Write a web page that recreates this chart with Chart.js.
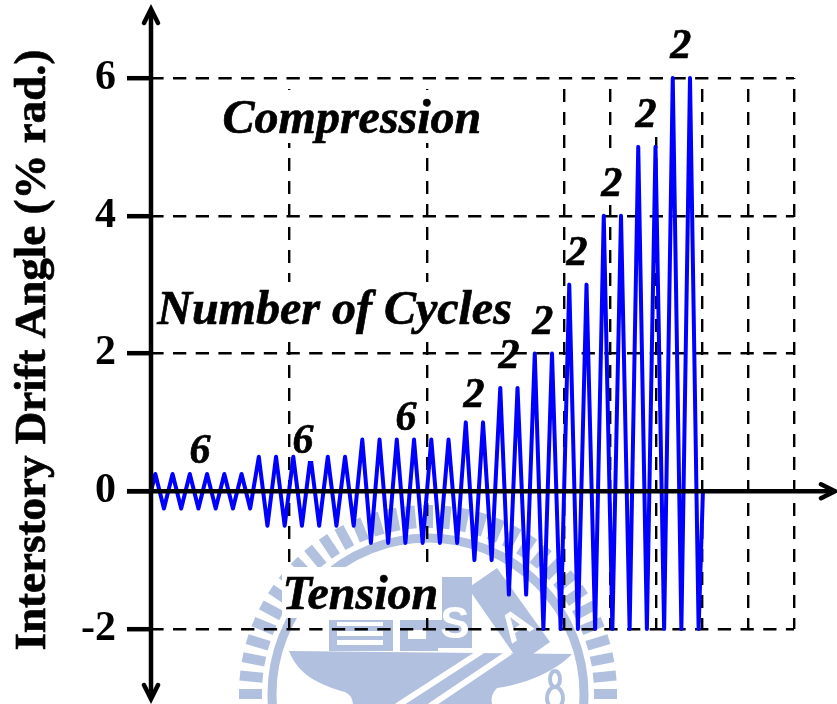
<!DOCTYPE html>
<html>
<head>
<meta charset="utf-8">
<style>
  html, body { margin: 0; padding: 0; background: #fff; overflow: hidden; }
  canvas { display: block; }
</style>
<script src="https://cdn.jsdelivr.net/npm/chart.js@4/dist/chart.umd.min.js"></script>
</head>
<body>
<canvas id="drift-chart" width="837" height="704"></canvas>
<script>
// peak and trough of every loading cycle, in % rad.
const cyclePeaks = [
  0.25, 0.25, 0.25, 0.25, 0.25, 0.25,
  0.5, 0.5, 0.5, 0.5, 0.5, 0.5,
  0.75, 0.75, 0.75, 0.75, 0.75, 0.75,
  1, 1, 1.5, 1.5, 2, 2, 3, 3, 4, 4, 5, 5, 6, 6
];
const cycleTroughs = [
  -0.25, -0.25, -0.25, -0.25, -0.25, -0.25,
  -0.5, -0.5, -0.5, -0.5, -0.5, -0.5,
  -0.75, -0.75, -0.75, -0.75, -0.75, -0.75,
  -1, -1, -1.5, -1.5, -2, -2, -2, -2, -2, -2, -2, -2, -2, -2
];
const yTicks = [-2, 0, 2, 4, 6];
const xGridLines = [0, 8, 16, 23.95, 26.62, 29.28, 31.94, 34.61, 37.28];
const yTitle = 'Interstory Drift Angle (% rad.)';

// repeat counts written over the steps: text, cycle, drift
const cycleCountText = ['6', '6', '6', '2', '2', '2', '2', '2', '2', '2'];
const cycleCountX = [2.84, 8.81, 14.78, 18.72, 20.75, 22.72, 24.7, 26.72, 28.7, 30.72];
const cycleCountY = [0.414, 0.559, 0.893, 1.227, 1.793, 2.287, 3.288, 4.29, 5.292, 6.294];

const zoneText = ['Compression', 'Number of Cycles', 'Tension'];
const zoneX = [11.65, 10.64, 12.14];
const zoneY = [5.205, 2.43, -1.706];

const WATERMARK = '#b0c0de';

const points = [{ x: 0, y: 0 }];
cyclePeaks.forEach((peak, i) => {
  points.push({ x: i + 0.25, y: peak });
  points.push({ x: i + 0.75, y: cycleTroughs[i] });
});
points.push({ x: cyclePeaks.length, y: 0 });

function drawWatermark(ctx) {
  const cx = 428, cy = 694;
  ctx.save();
  ctx.fillStyle = '#fff';
  ctx.fillRect(0, 0, 837, 704);
  ctx.strokeStyle = WATERMARK;
  ctx.fillStyle = WATERMARK;

  // outer teeth
  ctx.lineWidth = 10;
  for (let i = 0; i < 64; i++) {
    const a = i * Math.PI * 2 / 64;
    ctx.beginPath();
    ctx.moveTo(cx + 166 * Math.cos(a), cy + 166 * Math.sin(a));
    ctx.lineTo(cx + 189 * Math.cos(a), cy + 189 * Math.sin(a));
    ctx.stroke();
  }
  ctx.lineWidth = 9;
  ctx.beginPath();
  ctx.arc(cx, cy, 156, 0, Math.PI * 2);
  ctx.stroke();

  // anvil
  ctx.beginPath();
  ctx.moveTo(289, 651);
  ctx.lineTo(572, 654);
  ctx.bezierCurveTo(555, 672, 525, 684, 497, 688);
  ctx.quadraticCurveTo(490, 695, 492, 704);
  ctx.lineTo(353, 704);
  ctx.quadraticCurveTo(352, 695, 345, 692);
  ctx.bezierCurveTo(320, 685, 298, 675, 289, 651);
  ctx.fill();

  // books on the anvil
  ctx.fillRect(329, 620, 64, 31);
  ctx.fillRect(400, 620, 38, 31);
  ctx.fillRect(438, 577, 34, 71);
  ctx.fillStyle = '#fff';
  ctx.fillRect(337, 622, 46, 4);
  ctx.fillRect(337, 631, 46, 5);
  ctx.fillRect(337, 640, 46, 5);
  ctx.fillRect(393, 620, 7, 32);
  ctx.fillRect(408, 630, 18, 9);
  ctx.fillRect(438, 577, 4, 43);

  // tilted block with the shaft
  ctx.fillStyle = WATERMARK;
  ctx.beginPath();
  ctx.moveTo(468, 588);
  ctx.lineTo(497, 568);
  ctx.lineTo(550, 642);
  ctx.lineTo(520, 663);
  ctx.fill();
  ctx.strokeStyle = '#fff';
  ctx.lineWidth = 6;
  ctx.beginPath();
  ctx.moveTo(397, 706);
  ctx.lineTo(502, 638);
  ctx.moveTo(430, 706);
  ctx.lineTo(510, 652);
  ctx.stroke();

  // the 8 under the anvil's right horn
  ctx.strokeStyle = WATERMARK;
  ctx.lineWidth = 4;
  ctx.beginPath();
  ctx.ellipse(555, 679, 5, 8, 0, 0, Math.PI * 2);
  ctx.moveTo(563, 698);
  ctx.ellipse(555, 698, 8, 11, 0, 0, Math.PI * 2);
  ctx.stroke();

  ctx.fillStyle = '#fff';
  ctx.textAlign = 'center';
  ctx.textBaseline = 'middle';
  ctx.font = 'bold 44px "Liberation Sans"';
  ctx.fillText('S', 455, 626);
  ctx.save();
  ctx.translate(517, 627);
  ctx.rotate(-0.6);
  ctx.font = 'bold 40px "Liberation Sans"';
  ctx.fillText('A', 0, 0);
  ctx.restore();
  ctx.restore();
}

function arrowHead(ctx, x, y, dx, dy) {
  ctx.beginPath();
  ctx.moveTo(x - dx * 14 - dy * 7, y - dy * 14 - dx * 7);
  ctx.lineTo(x, y);
  ctx.lineTo(x - dx * 14 + dy * 7, y - dy * 14 + dx * 7);
  ctx.stroke();
}

// the reference type is a touch heavier than plain bold
function heavyText(ctx, text, x, y) {
  ctx.fillText(text, x, y);
  ctx.strokeText(text, x, y);
}

const background = {
  id: 'background',
  beforeDraw(chart) {
    drawWatermark(chart.ctx);
  }
};

const overlay = {
  id: 'overlay',
  afterDatasetsDraw(chart) {
    const { ctx, scales: { x, y } } = chart;
    const originX = x.getPixelForValue(0);
    const originY = y.getPixelForValue(0);

    ctx.save();
    ctx.fillStyle = '#fff';
    // white boxes behind the words, they hide the grid and the seal
    ctx.fillRect(222, 90, 260, 53);
    ctx.fillRect(155, 282, 358, 58);
    ctx.fillRect(282, 567, 158, 51);
    ctx.fillRect(297, 422, 21, 39);
    ctx.fillRect(600, 157, 28, 48);
    ctx.fillRect(634, 89, 28, 48);

    ctx.fillStyle = '#000';
    ctx.strokeStyle = '#000';
    ctx.lineWidth = 0.7;
    ctx.textAlign = 'center';
    ctx.textBaseline = 'alphabetic';
    ctx.font = 'italic bold 42px "Liberation Serif"';
    cycleCountText.forEach((t, i) => {
      heavyText(ctx, t, x.getPixelForValue(cycleCountX[i]), y.getPixelForValue(cycleCountY[i]));
    });
    ctx.font = 'italic bold 48px "Liberation Serif"';
    zoneText.forEach((t, i) => {
      heavyText(ctx, t, x.getPixelForValue(zoneX[i]), y.getPixelForValue(zoneY[i]));
    });

    // axis title
    ctx.save();
    ctx.translate(45, 350);
    ctx.rotate(-Math.PI / 2);
    ctx.font = 'bold 45px "Liberation Serif"';
    heavyText(ctx, yTitle, 0, 0);
    ctx.restore();

    // the two axes with arrow heads
    ctx.lineWidth = 4.5;
    ctx.beginPath();
    ctx.moveTo(originX, 10);
    ctx.lineTo(originX, 698);
    ctx.moveTo(127, originY);
    ctx.lineTo(834, originY);
    ctx.stroke();
    ctx.lineCap = 'round';
    arrowHead(ctx, originX, 9, 0, -1);
    arrowHead(ctx, originX, 699, 0, 1);
    arrowHead(ctx, 835, originY, 1, 0);
    ctx.restore();
  }
};

new Chart(document.getElementById('drift-chart'), {
  type: 'line',
  data: {
    datasets: [{
      data: points,
      borderColor: '#0000ff',
      borderWidth: 4,
      borderJoinStyle: 'round',
      pointRadius: 0,
      tension: 0,
      clip: false
    }]
  },
  plugins: [background, overlay],
  options: {
    responsive: false,
    animation: false,
    layout: { padding: { top: 78, right: 43, left: 0, bottom: 0 } },
    plugins: { legend: { display: false }, tooltip: { enabled: false } },
    scales: {
      x: {
        type: 'linear',
        min: 0,
        max: 37.28,
        afterBuildTicks(scale) {
          scale.ticks = xGridLines.map(v => ({ value: v }));
        },
        afterFit(scale) { scale.height = 75; },
        ticks: { display: false },
        border: { display: false, dash: [13, 10], dashOffset: 12 },
        grid: { color: '#000', lineWidth: 2.4, drawTicks: false }
      },
      y: {
        type: 'linear',
        min: -2,
        max: 6,
        afterBuildTicks(scale) {
          scale.ticks = yTicks.map(v => ({ value: v }));
        },
        afterFit(scale) { scale.width = 151; },
        ticks: {
          color: '#000',
          padding: 11,
          font: { family: '"Liberation Serif"', size: 42, weight: 'bold' }
        },
        border: { display: false, dash: [13.3, 9.4], dashOffset: 0.7 },
        grid: { color: '#000', lineWidth: 2.4, tickLength: 24, tickWidth: 4.5, tickColor: '#000' }
      }
    }
  }
});
</script>
</body>
</html>
